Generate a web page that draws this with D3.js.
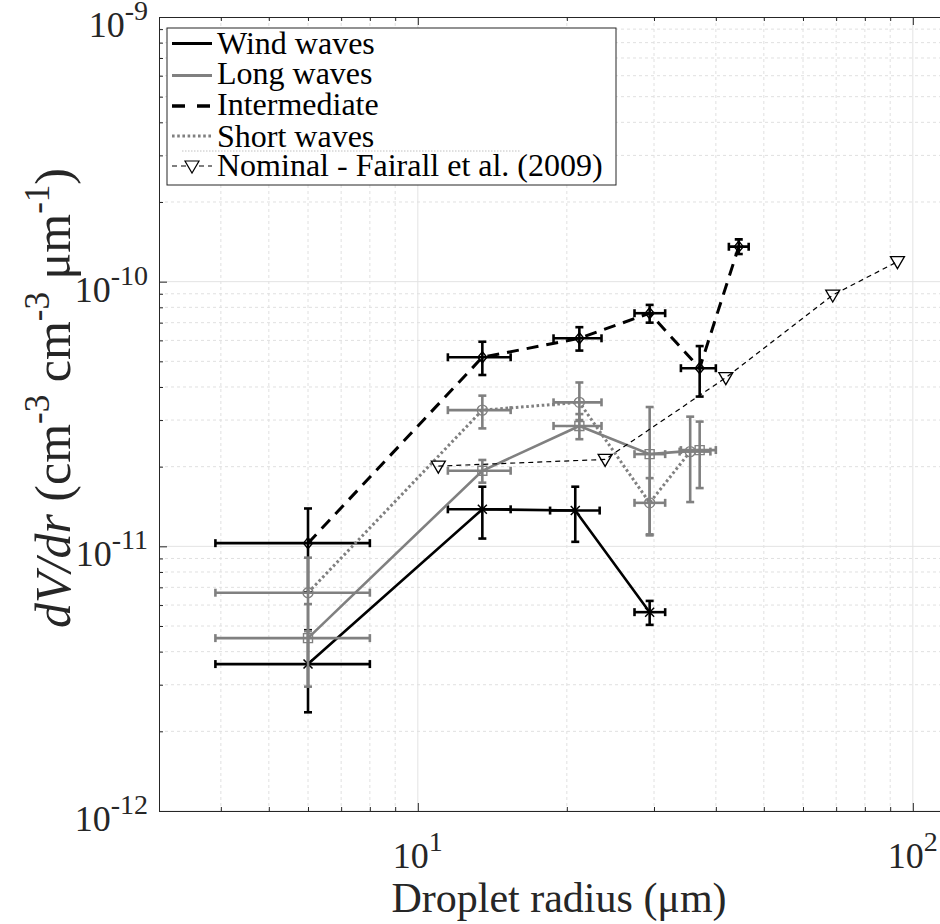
<!DOCTYPE html>
<html><head><meta charset="utf-8">
<script src="https://cdn.jsdelivr.net/npm/d3@7"></script>
<style>
html,body{margin:0;padding:0;background:#fff;}
svg{display:block;font-family:"Liberation Serif","Times New Roman",serif;}
</style></head>
<body>
<svg id="chart" width="940" height="924"></svg>
<script>
// ---------------- data ----------------
const windX    = [6, 13.5, 20.8, 29.4];
const windY    = [3.59e-12, 1.38e-11, 1.365e-11, 5.64e-12];
const windYLo  = [2.36e-12, 1.07e-11, 1.04e-11, 5.05e-12];
const windYHi  = [4.82e-12, 1.68e-11, 1.68e-11, 6.22e-12];
const windXLo  = [3.9, 11.5, 18.5, 27.4];
const windXHi  = [8.0, 15.4, 23.3, 31.6];

const longX    = [6, 13.5, 21.2, 29.4, 37.1];
const longY    = [4.5e-12, 1.93e-11, 2.85e-11, 2.23e-11, 2.31e-11];
const longYLo  = [2.95e-12, 1.74e-11, 2.54e-11, 1.1e-11, 1.66e-11];
const longYHi  = [6.05e-12, 2.12e-11, 3.16e-11, 3.36e-11, 2.96e-11];
const longXLo  = [3.9, 11.5, 18.8, 27.4, 34.0];
const longXHi  = [8.0, 15.4, 23.5, 31.6, 40.0];

const interX   = [6, 13.5, 21.2, 29.4, 37.1, 44.5];
const interY   = [1.028e-11, 5.18e-11, 6.11e-11, 7.6e-11, 4.71e-11, 1.356e-10];
const interYLo = [6.7e-12, 4.44e-11, 5.49e-11, 7.0e-11, 3.68e-11, 1.272e-10];
const interYHi = [1.39e-11, 5.93e-11, 6.73e-11, 8.17e-11, 5.71e-11, 1.445e-10];
const interXLo = [3.9, 11.5, 18.8, 27.4, 34.0, 42.5];
const interXHi = [8.0, 15.4, 23.5, 31.6, 40.0, 46.6];

const shortX   = [6, 13.5, 21.2, 29.4, 35.5];
const shortY   = [6.68e-12, 3.27e-11, 3.5e-11, 1.46e-11, 2.28e-11];
const shortYLo = [4.78e-12, 2.79e-11, 3.0e-11, 1.11e-11, 1.47e-11];
const shortYHi = [9.06e-12, 3.71e-11, 4.16e-11, 1.81e-11, 3.09e-11];
const shortXLo = [3.9, 11.5, 18.8, 27.4, 33.8];
const shortXHi = [8.0, 15.4, 23.5, 31.6, 39.0];

const nomX     = [11.0, 23.9, 41.9, 68.9, 93.1];
const nomY     = [2.01e-11, 2.13e-11, 4.34e-11, 8.9e-11, 1.19e-10];

const legendLabels = ["Wind waves", "Long waves", "Intermediate", "Short waves", "Nominal - Fairall et al. (2009)"];
const xTickValues = [10, 100];
const xTickExp    = ["1", "2"];
const yTickValues = [1e-12, 1e-11, 1e-10, 1e-9];
const yTickExp    = ["-12", "-11", "-10", "-9"];

// ---------------- layout ----------------
const svg = d3.select("#chart");
const pL = 159, pT = 17, pB = 811;
const xDomain = [3, 125];
const decadePx = 495;
const pR = pL + decadePx * Math.log10(xDomain[1] / xDomain[0]);
const x = d3.scaleLog().domain(xDomain).range([pL, pR]);
const y = d3.scaleLog().domain([1e-12, 1e-9]).range([pB, pT]);

const BLACK = "#000000", GRAY = "#808080", AX = "#262626";

svg.append("defs").append("clipPath").attr("id", "clip")
  .append("rect").attr("x", pL).attr("y", pT).attr("width", pR - pL).attr("height", pB - pT);

// ---------------- grid ----------------
const allX = x.ticks();
const allY = y.ticks();
const isMajor = v => Math.abs(Math.log10(v) - Math.round(Math.log10(v))) < 1e-9;
const grid = svg.append("g").attr("clip-path", "url(#clip)");
grid.selectAll("line.gx").data(allX).join("line")
  .attr("x1", d => x(d)).attr("x2", d => x(d)).attr("y1", pT).attr("y2", pB)
  .attr("stroke", d => isMajor(d) ? "#e3e3e3" : "#e0e0e0")
  .attr("stroke-width", 1)
  .attr("stroke-dasharray", d => isMajor(d) ? null : "3,3");
grid.selectAll("line.gy").data(allY).join("line")
  .attr("y1", d => y(d)).attr("y2", d => y(d)).attr("x1", pL).attr("x2", pR)
  .attr("stroke", d => isMajor(d) ? "#e3e3e3" : "#e0e0e0")
  .attr("stroke-width", 1)
  .attr("stroke-dasharray", d => isMajor(d) ? null : "3,3");

// ---------------- axes (inward ticks, box) ----------------
const minorX = allX.filter(d => !isMajor(d)), majorX = allX.filter(isMajor);
const minorY = allY.filter(d => !isMajor(d)), majorY = allY.filter(isMajor);
function styleAxis(g) {
  g.select(".domain").attr("stroke", AX).attr("stroke-width", 1);
  g.selectAll(".tick line").attr("stroke", AX).attr("stroke-width", 1);
}
[[majorX, 8], [minorX, 4]].forEach(([vals, len]) => {
  svg.append("g").attr("transform", `translate(0,${pB})`)
    .call(d3.axisBottom(x).tickValues(vals).tickSize(-len).tickSizeOuter(0).tickFormat(""))
    .call(styleAxis);
  svg.append("g").attr("transform", `translate(0,${pT})`)
    .call(d3.axisTop(x).tickValues(vals).tickSize(-len).tickSizeOuter(0).tickFormat(""))
    .call(styleAxis);
});
[[majorY, 8], [minorY, 4]].forEach(([vals, len]) => {
  svg.append("g").attr("transform", `translate(${pL},0)`)
    .call(d3.axisLeft(y).tickValues(vals).tickSize(-len).tickSizeOuter(0).tickFormat(""))
    .call(styleAxis);
  svg.append("g").attr("transform", `translate(${pR},0)`)
    .call(d3.axisRight(y).tickValues(vals).tickSize(-len).tickSizeOuter(0).tickFormat(""))
    .call(styleAxis);
});

// tick labels
const TF = 36, SF = 28, SUP = -17;
xTickValues.forEach((v, i) => {
  const t = svg.append("text").attr("x", x(v)).attr("y", pB + 57)
    .attr("text-anchor", "middle").attr("font-size", TF).attr("fill", AX);
  t.append("tspan").text("10");
  t.append("tspan").attr("dy", SUP).attr("font-size", SF).text(xTickExp[i]);
});
yTickValues.forEach((v, i) => {
  const t = svg.append("text").attr("x", pL - 11).attr("y", y(v) + 20)
    .attr("text-anchor", "end").attr("font-size", TF).attr("fill", AX);
  t.append("tspan").text("10");
  t.append("tspan").attr("dy", SUP).attr("font-size", SF).text(yTickExp[i]);
});

// axis titles
svg.append("text").attr("x", 559).attr("y", 912).attr("text-anchor", "middle")
  .attr("font-size", 42).attr("fill", AX).text("Droplet radius (\u03bcm)");
const yt = svg.append("text").attr("transform", "translate(70,398) rotate(-90)")
  .attr("text-anchor", "middle").attr("font-size", 50).attr("fill", AX);
yt.append("tspan").attr("font-style", "italic").text("dV/dr");
yt.append("tspan").text(" (cm");
yt.append("tspan").attr("dy", -21).attr("font-size", 35).text("-3");
yt.append("tspan").attr("dy", 21).text(" cm");
yt.append("tspan").attr("dy", -21).attr("font-size", 35).text("-3");
yt.append("tspan").attr("dy", 21).text(" \u03bcm");
yt.append("tspan").attr("dy", -21).attr("font-size", 35).text("-1");
yt.append("tspan").attr("dy", 21).text(")");

// ---------------- series ----------------
const plot = svg.append("g").attr("clip-path", "url(#clip)");
const CAP = 4;
function errorbars(g, xs, ys, ylo, yhi, xlo, xhi, color, w) {
  const eb = g.append("g").attr("stroke", color).attr("stroke-width", w).attr("fill", "none");
  xs.forEach((xv, i) => {
    const cx = x(xv), cy = y(ys[i]);
    const y1 = y(ylo[i]), y2 = y(yhi[i]), x1 = x(xlo[i]), x2 = x(xhi[i]);
    eb.append("line").attr("x1", cx).attr("x2", cx).attr("y1", y1).attr("y2", y2);
    eb.append("line").attr("x1", cx - CAP).attr("x2", cx + CAP).attr("y1", y1).attr("y2", y1);
    eb.append("line").attr("x1", cx - CAP).attr("x2", cx + CAP).attr("y1", y2).attr("y2", y2);
    eb.append("line").attr("x1", x1).attr("x2", x2).attr("y1", cy).attr("y2", cy);
    eb.append("line").attr("x1", x1).attr("x2", x1).attr("y1", cy - CAP).attr("y2", cy + CAP);
    eb.append("line").attr("x1", x2).attr("x2", x2).attr("y1", cy - CAP).attr("y2", cy + CAP);
  });
}
function seriesLine(g, xs, ys, color, w, dash) {
  const line = d3.line().x(d => x(d[0])).y(d => y(d[1]));
  g.append("path").datum(xs.map((v, i) => [v, ys[i]])).attr("d", line)
    .attr("fill", "none").attr("stroke", color).attr("stroke-width", w)
    .attr("stroke-dasharray", dash);
}
const markerPaths = {
  x: "M-4.5,-4.5L4.5,4.5M-4.5,4.5L4.5,-4.5",
  square: "M-4.5,-4.5H4.5V4.5H-4.5Z",
  diamond: "M0,-5.5L4.5,0L0,5.5L-4.5,0Z",
  circle: "M5,0A5,5 0 1,1 -5,0A5,5 0 1,1 5,0Z",
  tri: "M-7,-5L7,-5L0,7Z"
};
function markers(g, xs, ys, type, color, w) {
  g.append("g").selectAll("path").data(xs.map((v, i) => [v, ys[i]])).join("path")
    .attr("transform", d => `translate(${x(d[0])},${y(d[1])})`)
    .attr("d", markerPaths[type]).attr("fill", "none")
    .attr("stroke", color).attr("stroke-width", w);
}

// Wind waves
errorbars(plot, windX, windY, windYLo, windYHi, windXLo, windXHi, BLACK, 2.6);
seriesLine(plot, windX, windY, BLACK, 2.6, null);
markers(plot, windX, windY, "x", BLACK, 1.5);
// Long waves
errorbars(plot, longX, longY, longYLo, longYHi, longXLo, longXHi, GRAY, 2.6);
seriesLine(plot, longX, longY, GRAY, 2.6, null);
markers(plot, longX, longY, "square", GRAY, 1.4);
// Intermediate
errorbars(plot, interX, interY, interYLo, interYHi, interXLo, interXHi, BLACK, 2.6);
seriesLine(plot, interX, interY, BLACK, 3, "12,8");
markers(plot, interX, interY, "diamond", BLACK, 1.4);
// Short waves
errorbars(plot, shortX, shortY, shortYLo, shortYHi, shortXLo, shortXHi, GRAY, 2.6);
seriesLine(plot, shortX, shortY, GRAY, 3, "2.6,2.6");
markers(plot, shortX, shortY, "circle", GRAY, 1.4);
// Nominal
seriesLine(plot, nomX, nomY, BLACK, 1.2, "5,4");
markers(plot, nomX, nomY, "tri", BLACK, 1.3);

// ---------------- legend ----------------
const lg = svg.append("g");
lg.append("rect").attr("x", 167).attr("y", 28).attr("width", 449).attr("height", 157)
  .attr("fill", "#fff").attr("stroke", AX).attr("stroke-width", 1);
const rowsY = [43.5, 75.5, 106, 136, 166];
const baseY = [54, 84, 115, 147, 176];
const sampleStyle = [
  {c: BLACK, w: 3, dash: null},
  {c: GRAY, w: 3, dash: null},
  {c: BLACK, w: 3.5, dash: "13,12"},
  {c: GRAY, w: 3, dash: "2.6,2.6"},
  {c: BLACK, w: 1.2, dash: "5,4"}
];
legendLabels.forEach((lab, i) => {
  const s = sampleStyle[i];
  lg.append("line").attr("x1", 172).attr("x2", 212).attr("y1", rowsY[i]).attr("y2", rowsY[i])
    .attr("stroke", s.c).attr("stroke-width", s.w).attr("stroke-dasharray", s.dash);
  lg.append("text").attr("x", 217).attr("y", baseY[i]).attr("font-size", 32)
    .attr("fill", "#000").text(lab);
});
lg.append("path").attr("transform", `translate(192,${rowsY[4]})`).attr("d", markerPaths.tri)
  .attr("fill", "#fff").attr("stroke", BLACK).attr("stroke-width", 1.2);
lg.append("line").attr("x1", 182).attr("x2", 520).attr("y1", 151).attr("y2", 151)
  .attr("stroke", "#b0b0b0").attr("stroke-width", 0.8).attr("stroke-dasharray", "1.5,1.5");
</script>
</body></html>
